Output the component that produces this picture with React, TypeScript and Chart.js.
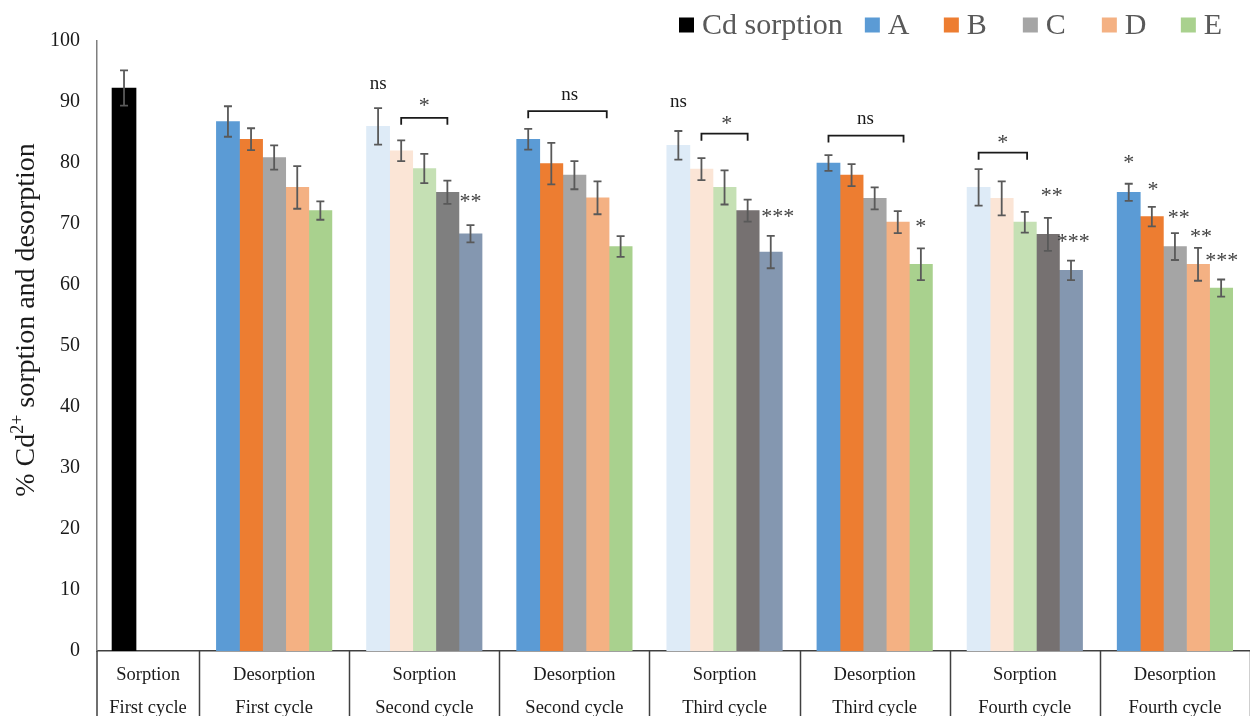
import React, { useEffect, useRef } from "react";
import { Chart, registerables } from "chart.js";

Chart.register(...registerables);

const SERIF = "'Liberation Serif', 'Times New Roman', serif";

// ---------- data ----------
const categoryLabels: string[][] = [
  ["Sorption", "First cycle"],
  ["Desorption", "First cycle"],
  ["Sorption", "Second cycle"],
  ["Desorption", "Second cycle"],
  ["Sorption", "Third cycle"],
  ["Desorption", "Third cycle"],
  ["Sorption", "Fourth cycle"],
  ["Desorption", "Fourth cycle"],
];

const cdLabel = "Cd sorption";
const cdSorption = [92.3, null, null, null, null, null, null, null];
const cdSorptionErr = [2.9, null, null, null, null, null, null, null];

const seriesNames = ["A", "B", "C", "D", "E"];
const seriesA = [null, 86.8, 86.0, 83.9, 82.9, 80.0, 76.0, 75.2];
const seriesAErr = [null, 2.5, 3.0, 1.7, 2.35, 1.3, 3.0, 1.4];
const seriesB = [null, 83.9, 82.0, 79.9, 79.0, 78.0, 74.2, 71.2];
const seriesBErr = [null, 1.8, 1.7, 3.4, 1.8, 1.8, 2.8, 1.6];
const seriesC = [null, 80.9, 79.1, 78.0, 76.0, 74.2, 70.3, 66.3];
const seriesCErr = [null, 2.0, 2.4, 2.3, 2.8, 1.8, 1.7, 2.2];
const seriesD = [null, 76.0, 75.2, 74.3, 72.2, 70.3, 68.3, 63.4];
const seriesDErr = [null, 3.5, 1.9, 2.7, 1.8, 1.8, 2.7, 2.7];
const seriesE = [null, 72.2, 68.4, 66.3, 65.4, 63.4, 62.4, 59.5];
const seriesEErr = [null, 1.5, 1.4, 1.7, 2.65, 2.6, 1.6, 1.4];

const yMin = 0;
const yMax = 100;
const yStep = 10;

const yTitleParts = ["% Cd", "2+", " sorption and desorption"];

// significance labels: [category, bar slot (0..4), value level, text]
const sigLabels: [number, number, number, string][] = [
  [2, 0, 92.8, "ns"],
  [2, 2, 90.0, "*"],
  [2, 4, 74.3, "**"],
  [3, 1.8, 91.1, "ns"],
  [4, 0, 89.9, "ns"],
  [4, 2.1, 87.0, "*"],
  [4, 4.3, 71.8, "***"],
  [5, 1.6, 87.2, "ns"],
  [5, 4.0, 70.2, "*"],
  [6, 1.05, 84.0, "*"],
  [6, 3.17, 75.2, "**"],
  [6, 4.1, 67.7, "***"],
  [7, 0, 80.7, "*"],
  [7, 1.05, 76.2, "*"],
  [7, 2.17, 71.6, "**"],
  [7, 3.13, 68.5, "**"],
  [7, 4.03, 64.6, "***"],
];
// brackets: [category, from slot, to slot, value level]
const sigBrackets: [number, number, number, number][] = [
  [2, 1, 3, 87.4],
  [3, 0, 3.4, 88.5],
  [4, 1, 3, 84.8],
  [5, 0, 3.25, 84.5],
  [6, 0, 2.1, 81.7],
];

// ---------- styles ----------
const cdColor = "#000000";
const desorptionColors = ["#5B9BD5", "#ED7D31", "#A5A5A5", "#F4B183", "#A9D18E"];
const sorptionColors2 = ["#DEEBF7", "#FBE5D6", "#C5E0B4", "#7F7F7F", "#8497B0"];
const sorptionColors3 = ["#DEEBF7", "#FBE5D6", "#C5E0B4", "#767171", "#8497B0"];
const sorptionColors4 = ["#DEEBF7", "#FBE5D6", "#C5E0B4", "#767171", "#8497B0"];
const paletteByCategory: (string[] | null)[] = [
  null, null, sorptionColors2, null, sorptionColors3, null, sorptionColors4, null,
];

const seriesValues = [seriesA, seriesB, seriesC, seriesD, seriesE];
const seriesErrors = [seriesAErr, seriesBErr, seriesCErr, seriesDErr, seriesEErr];

const CANVAS_H = 733;

const decorPlugin = {
  id: "decor",
  afterDatasetsDraw(chart: any) {
    const ctx = chart.ctx;
    const ys = chart.scales.y;
    ctx.save();
    ctx.strokeStyle = "#595959";
    ctx.lineWidth = 1.8;
    chart.data.datasets.forEach((ds: any, di: number) => {
      const meta = chart.getDatasetMeta(di);
      meta.data.forEach((el: any, i: number) => {
        const v = ds.data[i] && ds.data[i].y;
        const e = ds.errors[i];
        if (v == null || e == null) return;
        const x = el.x;
        const yt = ys.getPixelForValue(v + e);
        const yb = ys.getPixelForValue(v - e);
        ctx.beginPath();
        ctx.moveTo(x, yt);
        ctx.lineTo(x, yb);
        ctx.moveTo(x - 4, yt);
        ctx.lineTo(x + 4, yt);
        ctx.moveTo(x - 4, yb);
        ctx.lineTo(x + 4, yb);
        ctx.stroke();
      });
    });
    ctx.restore();
  },
  afterDraw(chart: any) {
    const ctx = chart.ctx;
    const xs = chart.scales.x;
    const ys = chart.scales.y;
    const area = chart.chartArea;
    const H = chart.height;

    // axis extension + category separators
    ctx.save();
    ctx.strokeStyle = "#404040";
    ctx.lineWidth = 1.5;
    ctx.beginPath();
    ctx.moveTo(area.left, area.bottom);
    ctx.lineTo(area.left, H);
    for (let i = 0; i < categoryLabels.length; i++) {
      const px = Math.round(xs.getPixelForValue(i + 0.5)) + 0.5;
      ctx.moveTo(px, area.bottom);
      ctx.lineTo(px, H);
    }
    ctx.stroke();
    ctx.restore();

    // significance marks
    const metaA = chart.getDatasetMeta(1);
    const metaB = chart.getDatasetMeta(2);
    const slotX = (c: number, s: number) => {
      const x0 = metaA.data[c].x;
      const dx = metaB.data[c].x - x0;
      return x0 + s * dx;
    };
    ctx.save();
    sigLabels.forEach(([c, s, v, t]) => {
      const x = slotX(c, s);
      const y = ys.getPixelForValue(v);
      const isStar = t.indexOf("*") >= 0;
      ctx.font = `${isStar ? 22 : 19}px ${SERIF}`;
      ctx.fillStyle = isStar ? "#404040" : "#1a1a1a";
      ctx.textAlign = "center";
      ctx.textBaseline = "alphabetic";
      const m = ctx.measureText(t);
      const off = (m.actualBoundingBoxAscent - m.actualBoundingBoxDescent) / 2;
      ctx.fillText(t, x, y + off);
    });
    ctx.strokeStyle = "#1a1a1a";
    ctx.lineWidth = 1.8;
    sigBrackets.forEach(([c, s1, s2, v]) => {
      const x1 = slotX(c, s1);
      const x2 = slotX(c, s2);
      const y = ys.getPixelForValue(v);
      ctx.beginPath();
      ctx.moveTo(x1, y + 7);
      ctx.lineTo(x1, y);
      ctx.lineTo(x2, y);
      ctx.lineTo(x2, y + 7);
      ctx.stroke();
    });
    ctx.restore();

    // y axis title
    ctx.save();
    ctx.translate(25, 320);
    ctx.rotate(-Math.PI / 2);
    ctx.fillStyle = "#1a1a1a";
    ctx.textBaseline = "alphabetic";
    ctx.textAlign = "left";
    const bigFont = `28px ${SERIF}`;
    const smallFont = `18px ${SERIF}`;
    ctx.font = bigFont;
    const w0 = ctx.measureText(yTitleParts[0]).width;
    const w2 = ctx.measureText(yTitleParts[2]).width;
    ctx.font = smallFont;
    const w1 = ctx.measureText(yTitleParts[1]).width;
    const total = w0 + w1 + w2;
    let tx = -total / 2;
    const base = 9;
    ctx.font = bigFont;
    ctx.fillText(yTitleParts[0], tx, base);
    tx += w0;
    ctx.font = smallFont;
    ctx.fillText(yTitleParts[1], tx, base - 11);
    tx += w1;
    ctx.font = bigFont;
    ctx.fillText(yTitleParts[2], tx, base);
    ctx.restore();

    // legend
    ctx.save();
    ctx.font = `30px ${SERIF}`;
    ctx.textBaseline = "middle";
    ctx.textAlign = "left";
    let lx = 679;
    const ly = 25;
    chart.data.datasets.forEach((ds: any) => {
      ctx.fillStyle = ds.legendColor;
      ctx.fillRect(lx, ly - 7.5, 15, 15);
      ctx.fillStyle = "#595959";
      const tw = ctx.measureText(ds.label).width;
      ctx.fillText(ds.label, lx + 23, ly + 1);
      lx += Math.max(23 + tw + 22, 79);
    });
    ctx.restore();
  },
};

export default function App() {
  const ref = useRef<HTMLCanvasElement>(null);
  useEffect(() => {
    const canvas = ref.current;
    if (!canvas) return;
    const datasets: any[] = [
      {
        label: cdLabel,
        data: categoryLabels.map((_, i) => ({ x: i, y: cdSorption[i] })),
        errors: cdSorptionErr,
        backgroundColor: cdColor,
        legendColor: cdColor,
        barThickness: 24,
        skipNull: true,
      },
    ];
    seriesNames.forEach((name, k) => {
      datasets.push({
        label: name,
        data: categoryLabels.map((_, i) => ({ x: i, y: seriesValues[k][i] })),
        errors: seriesErrors[k],
        backgroundColor: categoryLabels.map((_, i) =>
          paletteByCategory[i] ? (paletteByCategory[i] as string[])[k] : desorptionColors[k]
        ),
        legendColor: desorptionColors[k],
        barThickness: 23.1,
        skipNull: true,
      });
    });

    const chart = new Chart(canvas, {
      type: "bar",
      data: { datasets },
      options: {
        responsive: false,
        animation: false,
        layout: { padding: { top: 41, left: 0, right: 0, bottom: 0 } },
        plugins: { legend: { display: false }, tooltip: { enabled: false } },
        scales: {
          x: {
            type: "linear",
            min: -0.18,
            max: 7.5,
            bounds: "data",
            offset: false,
            grid: { display: false, drawTicks: false },
            border: { display: true, color: "#404040", width: 1.5 },
            afterBuildTicks: (s: any) => {
              s.ticks = categoryLabels.map((_, i) => ({
                value: i === 0 ? (s.min + 0.5) / 2 : i,
              }));
            },
            ticks: {
              autoSkip: false,
              maxRotation: 0,
              minRotation: 0,
              padding: 8,
              color: "#1a1a1a",
              font: { family: SERIF, size: 18.5, lineHeight: "33px" },
              callback: (_v: any, i: number) => categoryLabels[i],
            },
          },
          y: {
            min: yMin,
            max: yMax,
            grid: { display: false, drawTicks: false },
            border: { display: true, color: "#7F7F7F", width: 1.5 },
            afterFit: (s: any) => {
              s.width = 97;
            },
            ticks: {
              stepSize: yStep,
              padding: 17,
              color: "#1a1a1a",
              font: { family: SERIF, size: 20 },
            },
          },
        },
      } as any,
      plugins: [decorPlugin],
    });
    return () => chart.destroy();
  }, []);

  return (
    <div style={{ position: "fixed", left: 0, top: 0, width: 1250, height: CANVAS_H, background: "#fff" }}>
      <canvas ref={ref} width={1250} height={CANVAS_H} style={{ width: 1250, height: CANVAS_H, display: "block" }} />
    </div>
  );
}
